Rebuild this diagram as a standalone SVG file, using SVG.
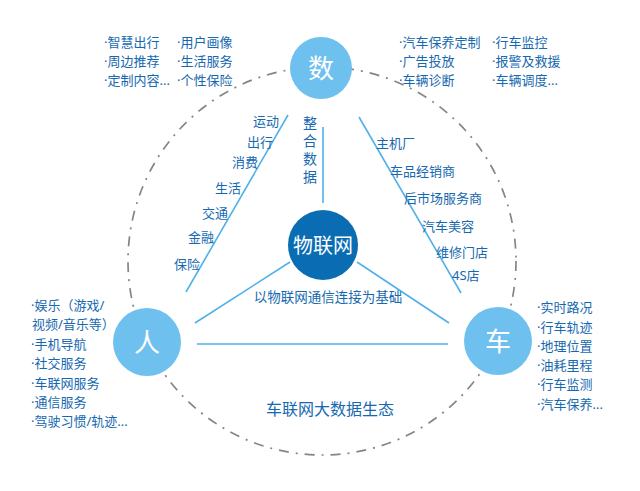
<svg xmlns="http://www.w3.org/2000/svg" width="640" height="491" viewBox="0 0 640 491">
<style>
text{font-family:"Noto Sans","Noto Sans CJK SC",sans-serif;fill:#1669b0;}
.t{font-size:13px;}
.ln{stroke:#4fb0ea;stroke-width:1.6;fill:none;}
.node{fill:#6ec0ef;}
.nl{fill:#ffffff;font-size:26px;text-anchor:middle;dominant-baseline:central;}
</style>
<rect width="640" height="491" fill="#ffffff"/>
<circle cx="322" cy="261" r="194" fill="none" stroke="#858585" stroke-width="1.7" stroke-dasharray="10 7 2 7"/>
<g id="connectors">
<line class="ln" x1="288" y1="115" x2="186" y2="292"/>
<line class="ln" x1="323" y1="127" x2="323" y2="203"/>
<line class="ln" x1="359" y1="117" x2="461" y2="293"/>
<line class="ln" x1="290" y1="262" x2="195" y2="323"/>
<line class="ln" x1="357" y1="262" x2="449" y2="323"/>
<line class="ln" x1="197" y1="344" x2="448" y2="344"/>
</g>
<g id="node-shu">
<circle class="node" cx="321" cy="68" r="31"/>
<text class="nl" x="321" y="68">数</text>
</g>
<g id="node-ren">
<circle class="node" cx="147" cy="342" r="34"/>
<text class="nl" x="147" y="342">人</text>
</g>
<g id="node-che">
<circle class="node" cx="498" cy="341" r="34"/>
<text class="nl" x="498" y="341">车</text>
</g>
<g id="node-iot">
<circle cx="323" cy="245" r="35" fill="#0a6db4"/>
<text x="323" y="245" style="fill:#fff;font-size:20px;text-anchor:middle;dominant-baseline:central">物联网</text>
</g>
<g id="labels-top-left" class="t">
<text x="104" y="47">·智慧出行</text>
<text x="104" y="66">·周边推荐</text>
<text x="104" y="85">·定制内容...</text>
<text x="177" y="47">·用户画像</text>
<text x="177" y="66">·生活服务</text>
<text x="177" y="85">·个性保险</text>
</g>
<g id="labels-top-right" class="t">
<text x="399" y="47">·汽车保养定制</text>
<text x="399" y="66">·广告投放</text>
<text x="399" y="85">·车辆诊断</text>
<text x="492" y="47">·行车监控</text>
<text x="492" y="66">·报警及救援</text>
<text x="492" y="85">·车辆调度...</text>
</g>
<g id="labels-left-diag" class="t" text-anchor="end">
<text x="279" y="126">运动</text>
<text x="273" y="147">出行</text>
<text x="258" y="167">消费</text>
<text x="241" y="193">生活</text>
<text x="228" y="218">交通</text>
<text x="214" y="242">金融</text>
<text x="200" y="269">保险</text>
</g>
<g id="label-zhenghe" style="font-size:14px" text-anchor="middle">
<text x="310" y="128">整</text>
<text x="310" y="146">合</text>
<text x="310" y="164">数</text>
<text x="310" y="182">据</text>
</g>
<g id="labels-right-diag" class="t">
<text x="376" y="148">主机厂</text>
<text x="390" y="176">车品经销商</text>
<text x="404" y="203">后市场服务商</text>
<text x="422" y="231">汽车美容</text>
<text x="436" y="257">维修门店</text>
<text x="452" y="280">4S店</text>
</g>
<g id="labels-ren" class="t">
<text x="31" y="310">·娱乐（游戏/</text>
<text x="32" y="329">视频/音乐等）</text>
<text x="31" y="349">·手机导航</text>
<text x="31" y="368">·社交服务</text>
<text x="31" y="388">·车联网服务</text>
<text x="31" y="407">·通信服务</text>
<text x="31" y="426">·驾驶习惯/轨迹...</text>
</g>
<g id="labels-che" class="t">
<text x="537" y="312">·实时路况</text>
<text x="537" y="332">·行车轨迹</text>
<text x="537" y="351">·地理位置</text>
<text x="537" y="370">·油耗里程</text>
<text x="537" y="389">·行车监测</text>
<text x="537" y="409">·汽车保养...</text>
</g>
<text x="328" y="297" style="font-size:13.5px;text-anchor:middle;dominant-baseline:central">以物联网通信连接为基础</text>
<text x="330" y="409" style="font-size:16px;text-anchor:middle;dominant-baseline:central">车联网大数据生态</text>
</svg>
